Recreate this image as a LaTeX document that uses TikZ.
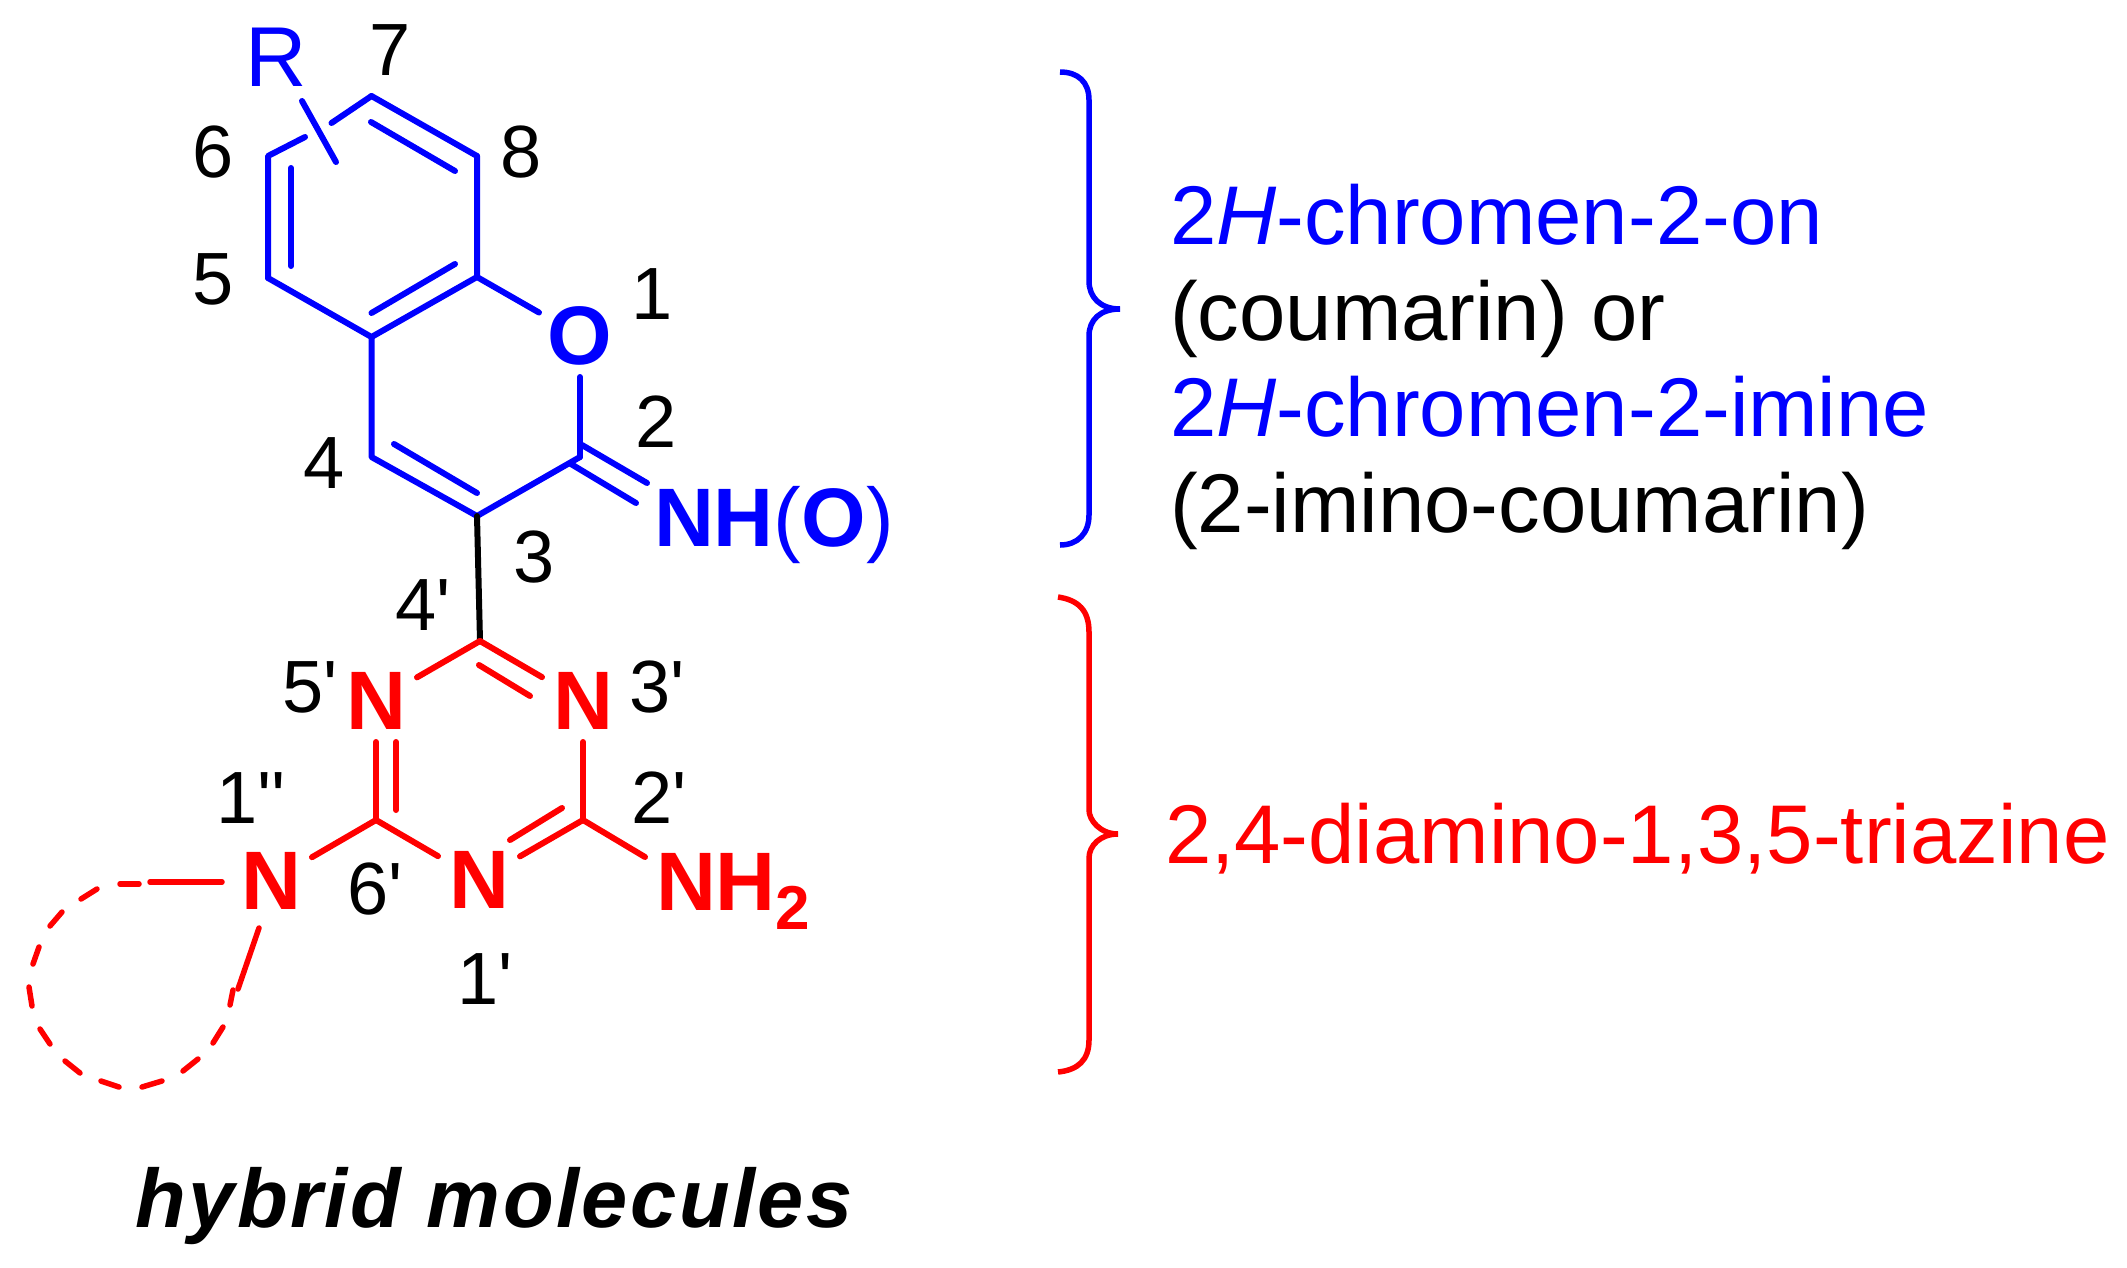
\documentclass[tikz,border=0pt]{standalone}
\usepackage{fontspec}
\newfontfamily\arialf{Liberation Sans}
\definecolor{cblue}{RGB}{0,0,255}
\definecolor{cred}{RGB}{255,0,0}
\tikzset{
  x=1pt,y=-1pt,
  bond/.style={line width=6pt,line cap=round,line join=round},
  bluebond/.style={bond,draw=cblue},
  redbond/.style={bond,draw=cred},
  blackbond/.style={bond,draw=black},
  dashbond/.style={redbond,line width=5.5pt},
  atom/.style={inner sep=0pt,outer sep=0pt,minimum width=82pt,minimum height=82pt,anchor=center,font=\arialf\bfseries\fontsize{83}{83}\selectfont},
  num/.style={inner sep=0pt,outer sep=0pt,anchor=base,font=\arialf\fontsize{74}{74}\selectfont,text=black},
  desc/.style={inner sep=0pt,outer sep=0pt,anchor=base west,font=\arialf\fontsize{83.3}{83.3}\selectfont},
  bracebar/.style={line width=5.5pt,line cap=butt,line join=miter},
}
\begin{document}
\begin{tikzpicture}
\useasboundingbox (0,0) rectangle (2127,1267);
% skeleton atoms
\coordinate (C7) at (371.5,96);
\coordinate (C8) at (477,156);
\coordinate (C8a) at (477,277);
\coordinate (C4a) at (371.5,337);
\coordinate (C5) at (268,278);
\coordinate (C6) at (268,156);
\coordinate (C2) at (580,457);
\coordinate (C4) at (371.5,457);
\coordinate (C3) at (477,516);
\coordinate (Ca) at (480,641);
\coordinate (Cb) at (583,820);
\coordinate (Cc) at (376,820);
% heteroatoms
\node[atom,text=cblue] (O1) at (580,336) {O};
\node[atom,text=cred] (N5) at (376,701) {N};
\node[atom,text=cred] (N3) at (583,701) {N};
\node[atom,text=cred] (N1) at (479,880) {N};
\node[atom,text=cred] (Nr) at (271,881) {N};
\node[inner sep=0pt,outer sep=0pt,anchor=base west,text=cblue,font=\arialf\bfseries\fontsize{83}{83}\selectfont] (NHO) at (654,546) {NH{\mdseries(}O{\mdseries)}};
\node[inner sep=0pt,outer sep=0pt,anchor=base west,text=cred,font=\arialf\bfseries\fontsize{83}{83}\selectfont] (NH2) at (656,910.5) {NH\raisebox{-19pt}{\fontsize{62}{62}\selectfont 2}};
\node[inner sep=0pt,outer sep=0pt,anchor=base,text=cblue,font=\arialf\fontsize{85}{85}\selectfont] (Rg) at (276,86) {R};
% blue skeleton
\draw[bluebond] (C5) -- (C4a) -- (C8a) -- (C8);
\draw[bluebond] (C8) -- (C7);
\coordinate (C7e) at (331.5,123);
\coordinate (C6e) at (305,137);
\draw[bluebond] (C7) -- (C7e);
\draw[bluebond] (C6e) -- (C6) -- (C5);
\draw[bluebond] (C4a) -- (C4) -- (C3) -- (C2);
\draw[bluebond] (C8a) -- (O1);
\draw[bluebond] (O1) -- (C2);
% inner lines
\coordinate (i1a) at (371,122); \coordinate (i1b) at (455,171);
\coordinate (i2a) at (455,264); \coordinate (i2b) at (371.5,313);
\coordinate (i3a) at (291,168); \coordinate (i3b) at (291,266);
\coordinate (i4a) at (394,444); \coordinate (i4b) at (477,493);
\draw[bluebond] (i1a) -- (i1b);
\draw[bluebond] (i2a) -- (i2b);
\draw[bluebond] (i3a) -- (i3b);
\draw[bluebond] (i4a) -- (i4b);
% exocyclic C=N
\coordinate (e1a) at (582,445); \coordinate (e1b) at (647,483);
\coordinate (e2a) at (571,464); \coordinate (e2b) at (636,503);
\draw[bluebond] (e1a) -- (e1b);
\draw[bluebond] (e2a) -- (e2b);
% R bond
\coordinate (Ra) at (302,101); \coordinate (Rb) at (336,162);
\draw[bluebond] (Ra) -- (Rb);
% linker
\draw[blackbond] (C3) -- (Ca);
% triazine
\draw[redbond] (N5) -- (Ca);
\draw[redbond] (Ca) -- (N3);
\draw[redbond] (N3) -- (Cb);
\draw[redbond] (Cb) -- (N1);
\draw[redbond] (N1) -- (Cc);
\draw[redbond] (Cc) -- (N5);
\draw[redbond] (Cc) -- (Nr);
\coordinate (a2e) at (645,857);
\draw[redbond] (Cb) -- (a2e);
\coordinate (t1a) at (479,665); \coordinate (t1b) at (530,696);
\coordinate (t2a) at (562,808); \coordinate (t2b) at (510,840);
\coordinate (t3a) at (396,742); \coordinate (t3b) at (396,810);
\draw[redbond] (t1a) -- (t1b);
\draw[redbond] (t2a) -- (t2b);
\draw[redbond] (t3a) -- (t3b);
% ring on N
\coordinate (L0) at (150,882);
\draw[dashbond] (Nr.west |- L0) ++(-8,0) -- (L0);
\coordinate (L1) at (259,928); \coordinate (L2) at (238,989);
\draw[dashbond] (L1) -- (L2);
\draw[dashbond] (120,884)--(139,884);
\draw[dashbond] (81,899)--(97,889);
\draw[dashbond] (50,926)--(62,912);
\draw[dashbond] (33,964)--(39,947);
\draw[dashbond] (29,987)--(32,1006);
\draw[dashbond] (40,1029)--(50,1044);
\draw[dashbond] (65,1061)--(80,1073);
\draw[dashbond] (101,1081)--(119,1087);
\draw[dashbond] (142,1087)--(162,1081);
\draw[dashbond] (183,1071)--(198,1059);
\draw[dashbond] (213,1043)--(223,1027);
\draw[dashbond] (230,1005)--(233,990);
% numbers
\node[num] (n7) at (390,75) {7};
\node[num] (n6) at (213,177) {6};
\node[num] (n8) at (521,177) {8};
\node[num] (n5) at (213,304.5) {5};
\node[num] (n1) at (652,319) {1};
\node[num] (n2) at (656,447) {2};
\node[num] (n4) at (324,488) {4};
\node[num] (n3) at (534,582) {3};
\node[num] (n4p) at (423,630) {4'};
\node[num] (n5p) at (310,712) {5'};
\node[num] (n3p) at (657,712) {3'};
\node[num] (n2p) at (659,823) {2'};
\node[num] (n1pp) at (251,823) {1''};
\node[num] (n6p) at (375,914) {6'};
\node[num] (n1p) at (485,1004) {1'};
% caption
\node[inner sep=0pt,outer sep=0pt,anchor=base,font=\arialf\bfseries\itshape\fontsize{83}{83}\selectfont\addfontfeature{LetterSpace=3}] (cap) at (494,1227) {hybrid molecules};
% braces
\draw[bracebar,cblue] (1060,72) .. controls (1078,72) and (1089,82) .. (1089,100) -- (1089,281)
  .. controls (1089,297) and (1100,309) .. (1120,309)
  .. controls (1100,309) and (1089,320) .. (1089,336) -- (1089,515)
  .. controls (1089,533) and (1078,545) .. (1060,545);
\draw[bracebar,cred] (1058,597) .. controls (1078,600) and (1089,610) .. (1089,632) -- (1089,810)
  .. controls (1089,820) and (1100,834) .. (1118,834)
  .. controls (1100,834) and (1089,846) .. (1089,858) -- (1089,1040)
  .. controls (1089,1060) and (1078,1070) .. (1058,1072);
% descriptions
\node[desc,text=cblue] (d1) at (1170,244) {2{\itshape H}-chromen-2-on};
\node[desc] (d2) at (1170,340) {(coumarin) or};
\node[desc,text=cblue] (d3) at (1170,436) {2{\itshape H}-chromen-2-imine};
\node[desc] (d4) at (1170,532) {(2-imino-coumarin)};
\node[desc,text=cred] (d5) at (1165,863) {2,4-diamino-1,3,5-triazine};
\end{tikzpicture}
\end{document}
